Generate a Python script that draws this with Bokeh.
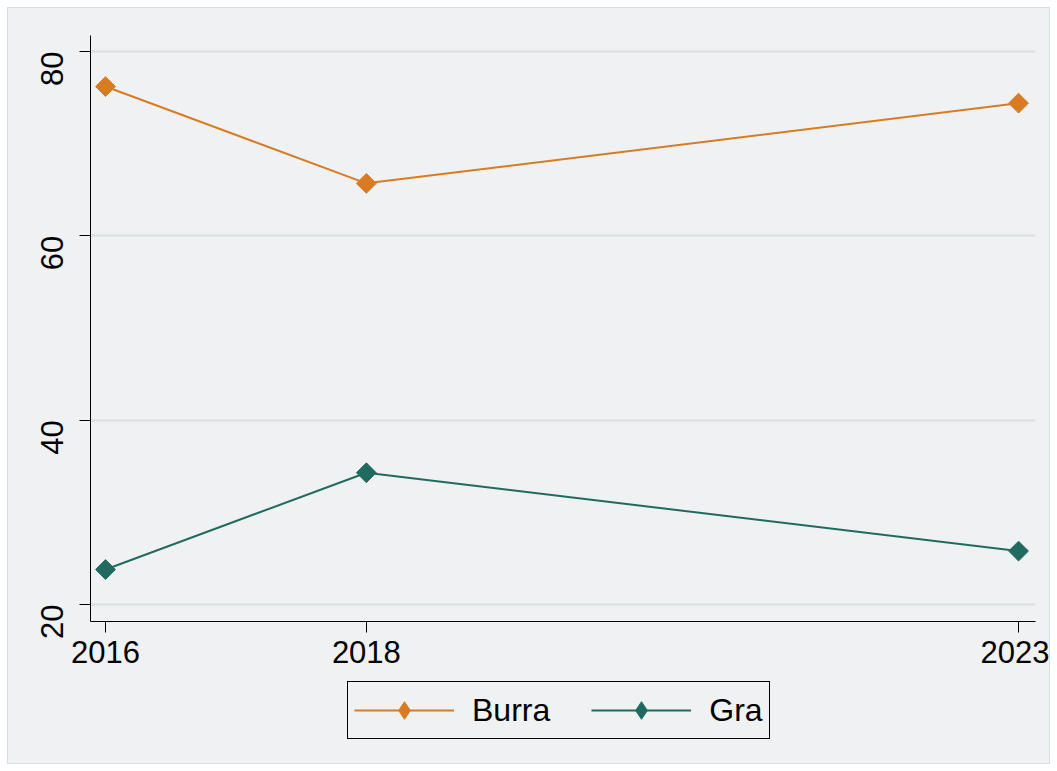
import math
from bokeh.plotting import figure
from bokeh.layouts import column
from bokeh.models import Legend, LegendItem, FixedTicker, Range1d
from bokeh.embed import file_html
from bokeh.resources import INLINE

years = [2016, 2018, 2023]
burra = [76.2, 65.7, 74.4]
gra = [23.8, 34.3, 25.8]
series_names = ["Burra", "Gra"]
y_ticks = [20, 40, 60, 80]

BG = "#eff1f3"
GRID = "#d5e1e1"
ORANGE = "#d97b22"
TEAL = "#216a5f"
FONT = "Liberation Sans"

p = figure(width=1041, height=670, output_backend="svg", toolbar_location=None,
           x_range=Range1d(2015.885, 2023.13), y_range=Range1d(18.16, 81.74),
           min_border_left=82, min_border_right=14, min_border_top=27, min_border_bottom=57)
p.background_fill_color = None
p.border_fill_color = None
p.outline_line_color = None

p.xgrid.grid_line_color = None
p.ygrid.grid_line_color = GRID
p.ygrid.grid_line_width = 2

for ax in (p.xaxis[0], p.yaxis[0]):
    ax.axis_line_color = "black"
    ax.axis_line_width = 1
    ax.major_tick_line_color = "black"
    ax.major_tick_out = 11
    ax.major_tick_in = 0
    ax.minor_tick_line_color = None
    ax.major_label_text_font = FONT
    ax.major_label_text_font_size = "31px"
    ax.major_label_text_color = "black"

p.xaxis[0].ticker = FixedTicker(ticks=years)
p.xaxis[0].major_label_standoff = 8
p.yaxis[0].ticker = FixedTicker(ticks=y_ticks)
p.yaxis[0].major_label_orientation = math.pi / 2
p.yaxis[0].major_label_standoff = 27

series = ((burra, ORANGE), (gra, TEAL))
for vals, col in series:
    p.line(years, vals, line_color=col, line_width=2)
    p.scatter(years, vals, marker="square", angle=math.pi / 4, size=14,
              fill_color=col, line_color=col)

# legend strip below the plot (its renderers fall outside its own ranges)
lf = figure(width=1041, height=85, output_backend="svg", toolbar_location=None,
            x_range=Range1d(0, 1), y_range=Range1d(0, 1), min_border=0)
lf.axis.visible = False
lf.grid.grid_line_color = None
lf.outline_line_color = None
lf.background_fill_color = None
lf.border_fill_color = None

items = []
for name, (vals, col) in zip(series_names, series):
    l = lf.line(years, vals, line_color=col, line_width=2)
    k = lf.scatter(years, vals, marker="diamond", fill_color=col, line_color=col)
    items.append(LegendItem(label=name, renderers=[l, k]))

legend = Legend(items=items, orientation="horizontal", location=(257, 24))
legend.background_fill_color = BG
legend.background_fill_alpha = 1
legend.border_line_color = "black"
legend.border_line_alpha = 1
legend.border_line_width = 1
legend.label_text_font = FONT
legend.label_text_font_size = "32px"
legend.label_text_color = "black"
legend.glyph_width = 100
legend.glyph_height = 44
legend.label_standoff = 18
legend.spacing = 41
legend.padding = 6
legend.margin = 0
lf.add_layout(legend, "center")

layout = column(p, lf, spacing=0, margin=(8, 8, 8, 8))
layout.styles = {"outline": "1px solid #d6e2e2", "background-color": BG}

html = file_html(layout, INLINE)
html = html.replace("<body", '<body style="background:%s"' % BG, 1)
open("out.html", "w").write(html)
